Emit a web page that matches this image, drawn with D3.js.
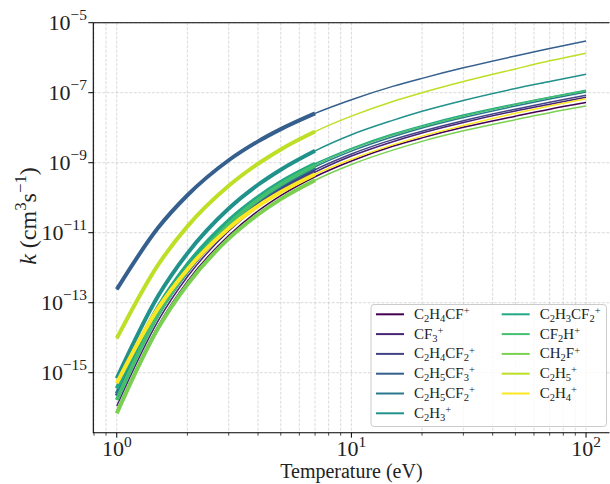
<!DOCTYPE html>
<html>
<head>
<meta charset="utf-8">
<script src="https://cdn.jsdelivr.net/npm/d3@7"></script>
<style>
  body { margin: 0; background: #fff; }
  svg { display: block; font-family: "Liberation Serif", "DejaVu Serif", serif; }
</style>
</head>
<body>
<svg id="chart" width="610" height="484"></svg>
<script>
var temps = [1, 1.5, 2, 3, 4, 5, 7, 10, 15, 20, 30, 50, 70, 100]
var fitMax = 7   // thick part of a curve ends here

var species = ["C_2H_4CF^+", "CF_3^+", "C_2H_4CF_2^+", "C_2H_5CF_3^+", "C_2H_5CF_2^+", "C_2H_3^+",
               "C_2H_3CF_2^+", "CF_2H^+", "CH_2F^+", "C_2H_5^+", "C_2H_4^+"]
// species drawn with the thick segment below fitMax
var thickSpecies = ["C_2H_4CF_2^+", "C_2H_5CF_3^+", "C_2H_5CF_2^+", "C_2H_3^+",
                    "C_2H_3CF_2^+", "CF_2H^+", "CH_2F^+", "C_2H_5^+", "C_2H_4^+"]

// log10 of k (cm^3 s^-1) at each temperature
var logK_C2H4CF   = [-16.10, -13.66, -12.39, -11.08, -10.38, -9.94, -9.40, -8.95, -8.53, -8.29, -7.99, -7.67, -7.47, -7.28]
var logK_CF3      = [-15.95, -13.52, -12.26, -10.95, -10.25, -9.81, -9.27, -8.81, -8.40, -8.15, -7.85, -7.52, -7.33, -7.13]
var logK_C2H4CF2  = [-15.66, -13.32, -12.10, -10.83, -10.16, -9.73, -9.20, -8.75, -8.34, -8.10, -7.80, -7.47, -7.27, -7.07]
var logK_C2H5CF3  = [-12.62, -10.86, -9.93, -8.93, -8.39, -8.04, -7.59, -7.20, -6.82, -6.59, -6.29, -5.95, -5.74, -5.52]
var logK_C2H5CF2  = [-15.60, -13.25, -12.03, -10.76, -10.08, -9.65, -9.12, -8.67, -8.26, -8.01, -7.71, -7.38, -7.18, -6.98]
var logK_C2H3     = [-15.16, -12.81, -11.59, -10.31, -9.63, -9.20, -8.66, -8.20, -7.79, -7.53, -7.22, -6.88, -6.68, -6.47]
var logK_C2H3CF2  = [-15.45, -13.12, -11.91, -10.65, -9.98, -9.55, -9.03, -8.59, -8.18, -7.94, -7.64, -7.32, -7.13, -6.93]
var logK_CF2H     = [-15.78, -13.34, -12.08, -10.76, -10.06, -9.62, -9.08, -8.62, -8.21, -7.97, -7.67, -7.34, -7.14, -6.95]
var logK_CH2F     = [-16.16, -13.73, -12.48, -11.17, -10.48, -10.04, -9.50, -9.05, -8.64, -8.39, -8.09, -7.77, -7.57, -7.38]
var logK_C2H5     = [-14.02, -11.92, -10.82, -9.66, -9.03, -8.62, -8.11, -7.67, -7.25, -7.00, -6.68, -6.32, -6.09, -5.87]
var logK_C2H4     = [-15.30, -13.16, -12.05, -10.87, -10.24, -9.84, -9.33, -8.90, -8.49, -8.24, -7.94, -7.59, -7.38, -7.17]

var allLogK = [logK_C2H4CF, logK_CF3, logK_C2H4CF2, logK_C2H5CF3, logK_C2H5CF2, logK_C2H3,
               logK_C2H3CF2, logK_CF2H, logK_CH2F, logK_C2H5, logK_C2H4]

var xTicksMajor = [1, 10, 100]
var yTicksMajor = [1e-15, 1e-13, 1e-11, 1e-9, 1e-7, 1e-5]

var pL = 93.3, pR = 609.5, pT = 22.7, pB = 432.7

var svg = d3.select('#chart')

var x = d3.scaleLog().domain([Math.pow(10, -0.1), Math.pow(10, 2.1)]).range([pL, pR])
var y = d3.scaleLog().domain([Math.pow(10, -16.714), 1e-5]).range([pB, pT])

// very small mathtext: _x subscript, ^x or ^{..} superscript
function addRich(textSel, str, size, supUp, subDown) {
    supUp = supUp || 0.42
    subDown = subDown || 0.22
    var shift = 0
    var i = 0
    while (i < str.length) {
        var ch = str[i], kind = null, s, j
        if (ch === '_' || ch === '^') {
            kind = ch
            i++
            if (str[i] === '{') { j = str.indexOf('}', i); s = str.slice(i + 1, j); i = j + 1 }
            else { s = str[i]; i++ }
        } else {
            j = i
            while (j < str.length && str[j] !== '_' && str[j] !== '^') j++
            s = str.slice(i, j); i = j
        }
        var target = kind === '^' ? -size * supUp : kind === '_' ? size * subDown : 0
        textSel.append('tspan')
            .attr('dy', target - shift)
            .style('font-size', (kind ? size * 0.7 : size) + 'px')
            .text(s.replace('-', '\u2212'))
        shift = target
    }
}

// grid
var gGrid = svg.append('g')
    .attr('stroke', '#b0b0b0')
    .attr('stroke-opacity', 0.6)
    .attr('stroke-width', 0.8)
    .attr('stroke-dasharray', '3,1.5')

var xAll = x.ticks()
gGrid.selectAll('.gx').data(xAll).enter().append('line')
    .attr('x1', function (d) { return x(d) }).attr('x2', function (d) { return x(d) })
    .attr('y1', pT).attr('y2', pB)
gGrid.selectAll('.gy').data(yTicksMajor).enter().append('line')
    .attr('x1', pL).attr('x2', pR)
    .attr('y1', function (d) { return y(d) }).attr('y2', function (d) { return y(d) })

// curves
var plot = svg.append('g')
var line = d3.line()
    .x(function (d) { return x(d[0]) })
    .y(function (d) { return y(d[1]) })
    .curve(d3.curveMonotoneX)

species.forEach(function (name, i) {
    var col = d3.interpolateViridis(i / (species.length - 1))
    var pts = temps.map(function (t, k) { return [t, Math.pow(10, allLogK[i][k])] })
    plot.append('path')
        .attr('d', line(pts))
        .attr('fill', 'none')
        .attr('stroke', col)
        .attr('stroke-width', 1.5)
    if (thickSpecies.indexOf(name) >= 0) {
        plot.append('path')
            .attr('d', line(pts.filter(function (p) { return p[0] <= fitMax })))
            .attr('fill', 'none')
            .attr('stroke', col)
            .attr('stroke-width', 4)
    }
})

// spines
var spines = svg.append('g').attr('stroke', '#000').attr('stroke-width', 1.1).attr('fill', 'none')
spines.append('path').attr('d', 'M' + pL + ',' + pT + 'V' + pB + 'H' + pR)
spines.append('path').attr('d', 'M' + pL + ',' + pT + 'H' + pR)

// x ticks
var gx = svg.append('g').attr('stroke', '#000')
gx.selectAll('.tk').data(xAll).enter().append('line')
    .attr('x1', function (d) { return x(d) }).attr('x2', function (d) { return x(d) })
    .attr('y1', pB)
    .attr('y2', function (d) { return pB + (xTicksMajor.indexOf(d) >= 0 ? 5 : 3) })
    .attr('stroke-width', function (d) { return xTicksMajor.indexOf(d) >= 0 ? 1 : 0.7 })

xTicksMajor.forEach(function (d) {
    var t = svg.append('text')
        .attr('x', x(d)).attr('y', 456)
        .attr('text-anchor', 'middle')
        .attr('fill', '#222')
    addRich(t, '10^{' + Math.round(Math.log10(d)) + '}', 22)
})

// y ticks
svg.append('g').attr('stroke', '#000').selectAll('line').data(yTicksMajor).enter().append('line')
    .attr('x1', pL - 5).attr('x2', pL)
    .attr('y1', function (d) { return y(d) }).attr('y2', function (d) { return y(d) })

yTicksMajor.forEach(function (d) {
    var t = svg.append('text')
        .attr('x', 87).attr('y', y(d) + 7)
        .attr('text-anchor', 'end')
        .attr('fill', '#222')
    addRich(t, '10^{' + Math.round(Math.log10(d)) + '}', 22)
})

// axis titles
var xt = svg.append('text')
    .attr('x', (pL + pR) / 2).attr('y', 478)
    .attr('text-anchor', 'middle')
    .attr('fill', '#222')
addRich(xt, 'Temperature (eV)', 20)

var yt = svg.append('text')
    .attr('transform', 'translate(36,216) rotate(-90)')
    .attr('text-anchor', 'middle')
    .attr('fill', '#222')
yt.append('tspan').style('font-style', 'italic').style('font-size', '24px').text('k')
addRich(yt, ' (cm^3s^{-1})', 24)

// legend
var lg = svg.append('g')
lg.append('rect')
    .attr('x', 371).attr('y', 304.5).attr('width', 235.5).attr('height', 122)
    .attr('rx', 3)
    .attr('fill', '#fff').attr('fill-opacity', 0.8)
    .attr('stroke', '#cccccc').attr('stroke-width', 1)

species.forEach(function (name, i) {
    var col = d3.interpolateViridis(i / (species.length - 1))
    var c = i < 6 ? 0 : 1
    var r = i < 6 ? i : i - 6
    var lx = c === 0 ? 376 : 501.7
    var ly = 314.3 + r * 19.8
    lg.append('line')
        .attr('x1', lx).attr('x2', lx + 28)
        .attr('y1', ly).attr('y2', ly)
        .attr('stroke', col).attr('stroke-width', 2)
    var t = lg.append('text')
        .attr('x', lx + 38).attr('y', ly + 4.5)
        .attr('fill', '#222')
    addRich(t, name, 15, 0.32, 0.2)
})
</script>
</body>
</html>
